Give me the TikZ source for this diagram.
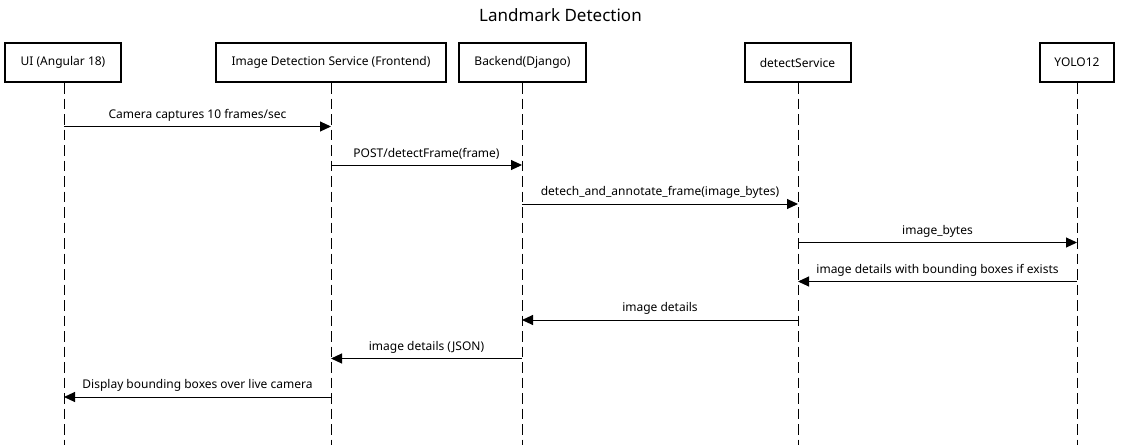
\documentclass[tikz,border=0pt]{standalone}
\usepackage{fontspec}
\setmainfont{Noto Sans}
\usetikzlibrary{arrows.meta}
\begin{document}
\begin{tikzpicture}[x=1pt,y=-1pt,
  actor/.style={draw=black,line width=2pt,fill=white,minimum height=39pt,inner sep=0pt,font=\fontsize{12}{14}\selectfont,anchor=center},
  life/.style={draw=black,line width=1pt,dash pattern=on 10.5pt off 5pt},
  msg/.style={draw=black,line width=1pt,-{Triangle[length=11pt,width=10pt]}},
  lbl/.style={font=\fontsize{12}{14}\selectfont,inner sep=0pt}]
\useasboundingbox[fill=white] (0,0) rectangle (1121,445);
\node[font=\fontsize{17}{20}\selectfont] (title) at (560.5,15) {Landmark Detection};
% actors
\node[actor,minimum width=116pt] (ui) at (63,62.5) {UI (Angular 18)};
\node[actor,minimum width=230pt] (ids) at (331,62.5) {Image Detection Service (Frontend)};
\node[actor,minimum width=127pt] (be) at (522.5,62.5) {Backend(Django)};
\node[actor,minimum width=106pt] (ds) at (797.5,62.5) {detectService};
\node[actor,minimum width=74pt] (yo) at (1077,62.5) {YOLO12};
% lifeline ends
\coordinate (uiE) at (64,445);
\coordinate (idsE) at (331,445);
\coordinate (beE) at (522,445);
\coordinate (dsE) at (798,445);
\coordinate (yoE) at (1077,445);
\draw[life] (ui.south -| uiE) -- (uiE);
\draw[life] (ids.south -| idsE) -- (idsE);
\draw[life] (be.south -| beE) -- (beE);
\draw[life] (ds.south -| dsE) -- (dsE);
\draw[life] (yo.south -| yoE) -- (yoE);
% message anchor coordinates
\foreach \n/\y in {1/126.5,2/165,3/204,4/242.5,5/281.5,6/320,7/358.5,8/397}{
  \coordinate (a\n) at (64,\y);
  \coordinate (b\n) at (331,\y);
  \coordinate (c\n) at (522,\y);
  \coordinate (d\n) at (798,\y);
  \coordinate (e\n) at (1077,\y);
}
\draw[msg] (a1) -- node[lbl,above=5pt] (m1) {Camera captures 10 frames/sec} (b1);
\draw[msg] (b2) -- node[lbl,above=5pt] (m2) {POST/detectFrame(frame)} (c2);
\draw[msg] (c3) -- node[lbl,above=5pt] (m3) {detech\_and\_annotate\_frame(image\_bytes)} (d3);
\draw[msg] (d4) -- node[lbl,above=5pt] (m4) {image\_bytes} (e4);
\draw[msg] (e5) -- node[lbl,above=5pt] (m5) {image details with bounding boxes if exists} (d5);
\draw[msg] (d6) -- node[lbl,above=5pt] (m6) {image details} (c6);
\draw[msg] (c7) -- node[lbl,above=5pt] (m7) {image details (JSON)} (b7);
\draw[msg] (b8) -- node[lbl,above=5pt] (m8) {Display bounding boxes over live camera} (a8);
\end{tikzpicture}
\end{document}
